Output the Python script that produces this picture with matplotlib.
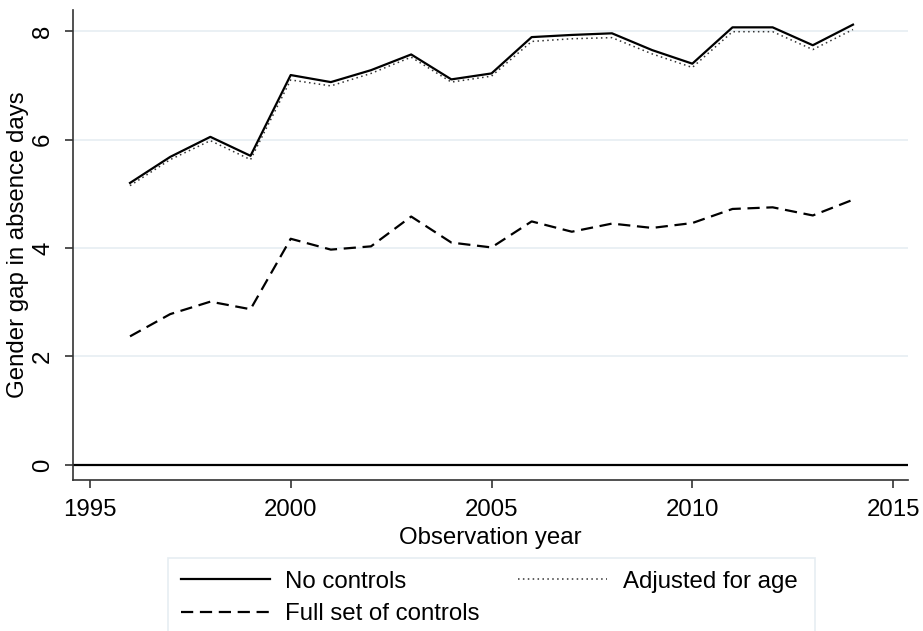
import matplotlib
matplotlib.use('Agg')
import matplotlib.pyplot as plt
from matplotlib.patches import Rectangle

plt.rcParams['font.family'] = ['Liberation Sans', 'DejaVu Sans']

years = [1996, 1997, 1998, 1999, 2000, 2001, 2002, 2003, 2004, 2005,
         2006, 2007, 2008, 2009, 2010, 2011, 2012, 2013, 2014]
no_controls = [5.20, 5.68, 6.05, 5.70, 7.19, 7.06, 7.28, 7.57, 7.11, 7.22,
               7.89, 7.93, 7.96, 7.65, 7.40, 8.07, 8.07, 7.74, 8.12]
adj_age = [5.15, 5.63, 5.98, 5.63, 7.10, 6.99, 7.22, 7.52, 7.06, 7.17,
           7.81, 7.86, 7.88, 7.58, 7.33, 7.99, 7.99, 7.66, 8.03]
full_controls = [2.37, 2.78, 3.01, 2.87, 4.17, 3.97, 4.03, 4.58, 4.10, 4.01,
                 4.49, 4.30, 4.45, 4.37, 4.46, 4.72, 4.75, 4.60, 4.89]

xticks = [1995, 2000, 2005, 2010, 2015]
yticks = [0, 2, 4, 6, 8]

fs = 17.3
grid_col = '#e6edf2'

fig = plt.figure(figsize=(9.23, 6.31), dpi=100)
ax = fig.add_axes([73/923, 1 - 480/631, (908-73)/923, (480-10)/631])

for y in yticks[1:]:
    ax.axhline(y, color=grid_col, lw=1.2, zorder=0)
ax.axhline(0, color='black', lw=1.6, zorder=1)

l1, = ax.plot(years, no_controls, color='black', lw=1.6, label='No controls', zorder=3)
l2, = ax.plot(years, adj_age, color='#333333', lw=1.1, linestyle=(0, (1, 2.2)),
              label='Adjusted for age', zorder=2)
l3, = ax.plot(years, full_controls, color='black', lw=1.6, linestyle=(0, (5.5, 3)),
              label='Full set of controls', zorder=3)

ax.set_xlim(1994.58, 2015.37)
ax.set_ylim(-0.28, 8.39)
ax.set_xticks(xticks)
ax.set_yticks(yticks)
ax.set_yticklabels([str(v) for v in yticks], rotation=90, va='center')

for s in ['top', 'right']:
    ax.spines[s].set_visible(False)
for s in ['left', 'bottom']:
    ax.spines[s].set_color('#333333')
    ax.spines[s].set_linewidth(1.2)
ax.tick_params(axis='both', direction='out', length=6, width=1.2, color='#333333',
               labelsize=fs)
ax.tick_params(axis='x', pad=8)
ax.tick_params(axis='y', pad=7.5)

ax.set_xlabel('Observation year', fontsize=fs)
ax.set_ylabel('Gender gap in absence days', fontsize=fs)
ax.xaxis.set_label_coords(0.5, -0.100)
ax.yaxis.set_label_coords(-0.053, 0.5)

# legend box, open at the bottom edge like the source
fig.patches.append(Rectangle((168/923, -0.05), (815-168)/923, 1 - 558/631 + 0.05,
                             transform=fig.transFigure, facecolor='white',
                             edgecolor=grid_col, lw=1.2, zorder=0))
leg = fig.legend(handles=[l1, l3, l2], loc='upper left', ncol=2,
                 bbox_to_anchor=(168/923, 1 - 558/631),
                 fontsize=fs, frameon=False,
                 borderaxespad=0, borderpad=0.53, labelspacing=0.43,
                 handlelength=3.7, handletextpad=0.65, columnspacing=1.6)

fig.savefig('out.png', dpi=100)
